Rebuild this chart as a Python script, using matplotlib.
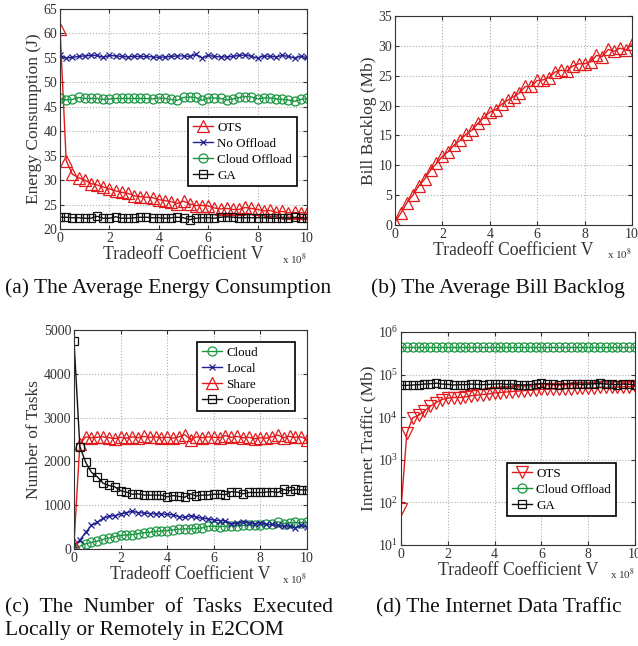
import numpy as np
import matplotlib
matplotlib.use("Agg")
import matplotlib.pyplot as plt

plt.rcParams['font.family'] = ['Liberation Serif', 'DejaVu Serif']
plt.rcParams['mathtext.fontset'] = 'stix'

# --- data (x in units of 1e8) ---
V = np.arange(41) * 0.25

ots_energy = [61.0, 34.0, 31.2, 30.5, 30.0, 29.3, 29.0, 28.6, 28.2, 27.8, 27.5, 27.3, 26.8, 26.6,
              26.5, 26.4, 26.0, 25.8, 25.6, 25.2, 25.7, 25.1, 24.8, 24.8, 24.7, 24.3, 24.1, 24.2,
              24.0, 24.0, 24.4, 24.2, 24.0, 23.7, 23.8, 23.4, 23.6, 23.3, 23.4, 23.3, 23.3]
nooff_energy = [55.5, 55.0, 55.1, 55.3, 55.4, 55.5, 55.5, 55.1, 55.5, 55.4, 55.3, 55.2, 55.3, 55.3,
                55.3, 55.2, 55.1, 55.2, 55.3, 55.4, 55.4, 55.3, 55.7, 55.0, 55.5, 55.3, 55.2, 55.2,
                55.3, 55.5, 55.6, 55.3, 55.0, 55.4, 55.3, 55.2, 55.5, 55.3, 55.0, 55.3, 55.1]
cloud_energy = [46.7, 46.4, 46.5, 46.9, 46.7, 46.7, 46.7, 46.5, 46.6, 46.7, 46.7, 46.7, 46.7, 46.7,
                46.7, 46.6, 46.8, 46.7, 46.5, 46.3, 46.9, 47.0, 46.9, 46.3, 46.8, 46.8, 46.7, 46.4,
                46.6, 46.9, 47.1, 47.0, 46.6, 46.8, 46.8, 46.6, 46.5, 46.4, 46.1, 46.5, 46.7]
ga_energy = [22.4, 22.4, 22.3, 22.3, 22.2, 22.2, 22.6, 22.2, 22.2, 22.5, 22.2, 22.2, 22.3, 22.4,
             22.4, 22.3, 22.3, 22.2, 22.3, 22.4, 22.3, 21.9, 22.2, 22.3, 22.3, 22.2, 22.4, 22.5,
             22.4, 22.3, 22.3, 22.3, 22.3, 22.3, 22.2, 22.2, 22.3, 22.2, 22.4, 22.3, 22.2]

bill_backlog = [0.5, 2.0, 3.7, 5.0, 6.5, 7.7, 9.2, 10.3, 11.5, 12.3, 13.4, 14.2, 15.2, 15.9,
                17.0, 18.0, 18.9, 19.3, 20.2, 20.9, 21.5, 22.1, 23.2, 23.2, 24.2, 24.3, 24.7, 25.6,
                25.9, 25.8, 26.6, 27.0, 27.0, 27.3, 28.4, 28.2, 29.4, 29.1, 29.6, 29.3, 30.3]

tasks_cloud = [20, 60, 120, 150, 180, 220, 250, 280, 310, 320, 330, 350, 370, 380, 400, 410,
               420, 440, 450, 460, 460, 470, 480, 520, 520, 510, 520, 530, 530, 540, 540, 550,
               550, 560, 560, 620, 580, 600, 610, 600, 610]
tasks_local = [100, 200, 380, 540, 610, 700, 750, 760, 800, 830, 860, 830, 820, 810, 800, 800,
               790, 780, 740, 720, 760, 730, 700, 690, 660, 650, 640, 580, 590, 620, 600, 580,
               600, 560, 560, 540, 520, 530, 480, 540, 500]
tasks_share = [120, 2400, 2560, 2540, 2550, 2560, 2540, 2520, 2550, 2530, 2560, 2540, 2570, 2550,
               2560, 2540, 2550, 2530, 2560, 2610, 2500, 2560, 2540, 2560, 2550, 2540, 2590, 2550,
               2570, 2540, 2550, 2520, 2540, 2530, 2560, 2600, 2540, 2570, 2550, 2560, 2500]
tasks_coop = [4750, 2340, 1980, 1750, 1650, 1500, 1450, 1420, 1330, 1300, 1250, 1260, 1230, 1230,
              1230, 1230, 1190, 1220, 1200, 1180, 1260, 1210, 1230, 1230, 1250, 1250, 1240, 1310,
              1300, 1260, 1290, 1290, 1290, 1300, 1310, 1290, 1360, 1330, 1360, 1350, 1350]

ots_traffic = [70, 4200, 9700, 11000, 14000, 18000, 22000, 26000, 28000, 29000, 29000, 30000,
               32000, 33000, 34000, 35000, 37000, 38000, 39000, 40000, 41000, 42000, 43000, 44000,
               45000, 45000, 46000, 46000, 47000, 47000, 48000, 48000, 49000, 49000, 50000, 50000,
               51000, 51000, 52000, 52000, 53000]
cloud_traffic = [450000] * 41
ga_traffic = [56000, 56000, 57000, 58000, 60000, 61000, 63000, 60000, 59000, 57000, 58000, 58000,
              60000, 59000, 58000, 59000, 60000, 61000, 59000, 60000, 58000, 57000, 58000, 59000,
              62000, 60000, 59000, 58000, 60000, 61000, 60000, 59000, 60000, 61000, 62000, 60000,
              59000, 58000, 60000, 59000, 57000]

W, H = 638, 646
fig = plt.figure(figsize=(W / 100, H / 100), dpi=100)
TXT = '#333333'


def make_ax(left, right, top, bottom):
    ax = fig.add_axes([left / W, 1 - bottom / H, (right - left) / W, (bottom - top) / H])
    ax.grid(True, linestyle=':', color='#b0b0b0', linewidth=0.8)
    ax.tick_params(direction='in', labelsize=10, colors=TXT, length=3, pad=2,
                   top=True, right=True)
    for s in ax.spines.values():
        s.set_color(TXT)
        s.set_linewidth(0.8)
    ax.set_xlim(0, 10)
    ax.set_xticks([0, 2, 4, 6, 8, 10])
    ax.set_xlabel('Tradeoff Coefficient V', fontsize=12.7, color=TXT, labelpad=1)
    ax.text(1.0, -0.14, r'x 10$^8$', transform=ax.transAxes, ha='right', va='center',
            fontsize=8, color=TXT)
    return ax


def add_legend(ax, x, y):
    leg = ax.legend(loc='upper left', bbox_to_anchor=(x, y), borderaxespad=0, fontsize=9.4,
                    frameon=True, fancybox=False, edgecolor='black', framealpha=1,
                    borderpad=0.35, handlelength=1.6, labelspacing=0.3, handletextpad=0.3)
    leg.get_frame().set_linewidth(1.2)


tri = dict(markersize=8, markerfacecolor='none', linewidth=1.0, markeredgewidth=0.9)
circ = dict(markersize=6.5, markerfacecolor='none', linewidth=1.0, markeredgewidth=0.9)
sq = dict(markersize=5.5, markerfacecolor='none', linewidth=1.0, markeredgewidth=0.9)
cross = dict(markersize=4.5, linewidth=1.0, markeredgewidth=0.9)
RED, BLUE, GREEN, BLACK = '#e31a1c', '#1f1f8f', '#1a9641', '#111111'

# (a)
ax = make_ax(60, 307, 9, 229)
ax.plot(V, ots_energy, '-^', color=RED, label='OTS', **tri)
ax.plot(V, nooff_energy, '-x', color=BLUE, label='No Offload', **cross)
ax.plot(V, cloud_energy, '-o', color=GREEN, label='Cloud Offload', **circ)
ax.plot(V, ga_energy, '-s', color=BLACK, label='GA', **sq)
ax.set_ylim(20, 65)
ax.set_yticks(range(20, 66, 5))
ax.set_ylabel('Energy Consumption (J)', fontsize=12.5, color=TXT, labelpad=1)
add_legend(ax, 0.518, 0.509)

# (b)
ax = make_ax(395, 632, 16, 225)
ax.plot(V, bill_backlog, '-^', color=RED, **tri)
ax.set_ylim(0, 35)
ax.set_yticks(range(0, 36, 5))
ax.set_ylabel('Bill Backlog (Mb)', fontsize=12.5, color=TXT, labelpad=1)

# (c)
ax = make_ax(74, 307, 330, 549)
ax.plot(V, tasks_cloud, '-o', color=GREEN, label='Cloud', **circ)
ax.plot(V, tasks_local, '-x', color=BLUE, label='Local', **cross)
ax.plot(V, tasks_share, '-^', color=RED, label='Share', **tri)
ax.plot(V, tasks_coop, '-s', color=BLACK, label='Cooperation', **sq)
ax.set_ylim(0, 5000)
ax.set_yticks(range(0, 5001, 1000))
ax.set_ylabel('Number of Tasks', fontsize=12.5, color=TXT, labelpad=1)
add_legend(ax, 0.528, 0.945)

# (d)
ax = make_ax(401, 635, 332, 545)
ax.plot(V, ots_traffic, '-v', color=RED, label='OTS', **tri)
ax.plot(V, cloud_traffic, '-o', color=GREEN, label='Cloud Offload', **circ)
ax.plot(V, ga_traffic, '-s', color=BLACK, label='GA', **sq)
ax.set_yscale('log')
ax.set_ylim(10, 1e6)
ax.set_yticks([1e1, 1e2, 1e3, 1e4, 1e5, 1e6])
ax.minorticks_off()
ax.grid(True, linestyle=':', color='#b0b0b0', linewidth=0.8)
ax.set_ylabel('Internet Traffic (Mb)', fontsize=12.5, color=TXT, labelpad=1)
add_legend(ax, 0.453, 0.385)

# captions
cap = dict(fontsize=15.5, color='#111111', va='center', ha='left')
fig.text(5 / W, 1 - 288 / H, '(a) The Average Energy Consumption', **cap)
fig.text(371 / W, 1 - 288 / H, '(b) The Average Bill Backlog', **cap)
fig.text(5 / W, 1 - 608 / H, '(c)  The  Number  of  Tasks  Executed', **cap)
fig.text(5 / W, 1 - 631 / H, 'Locally or Remotely in E2COM', **cap)
fig.text(376 / W, 1 - 608 / H, '(d) The Internet Data Traffic', **cap)

fig.savefig('out.png', dpi=100)
